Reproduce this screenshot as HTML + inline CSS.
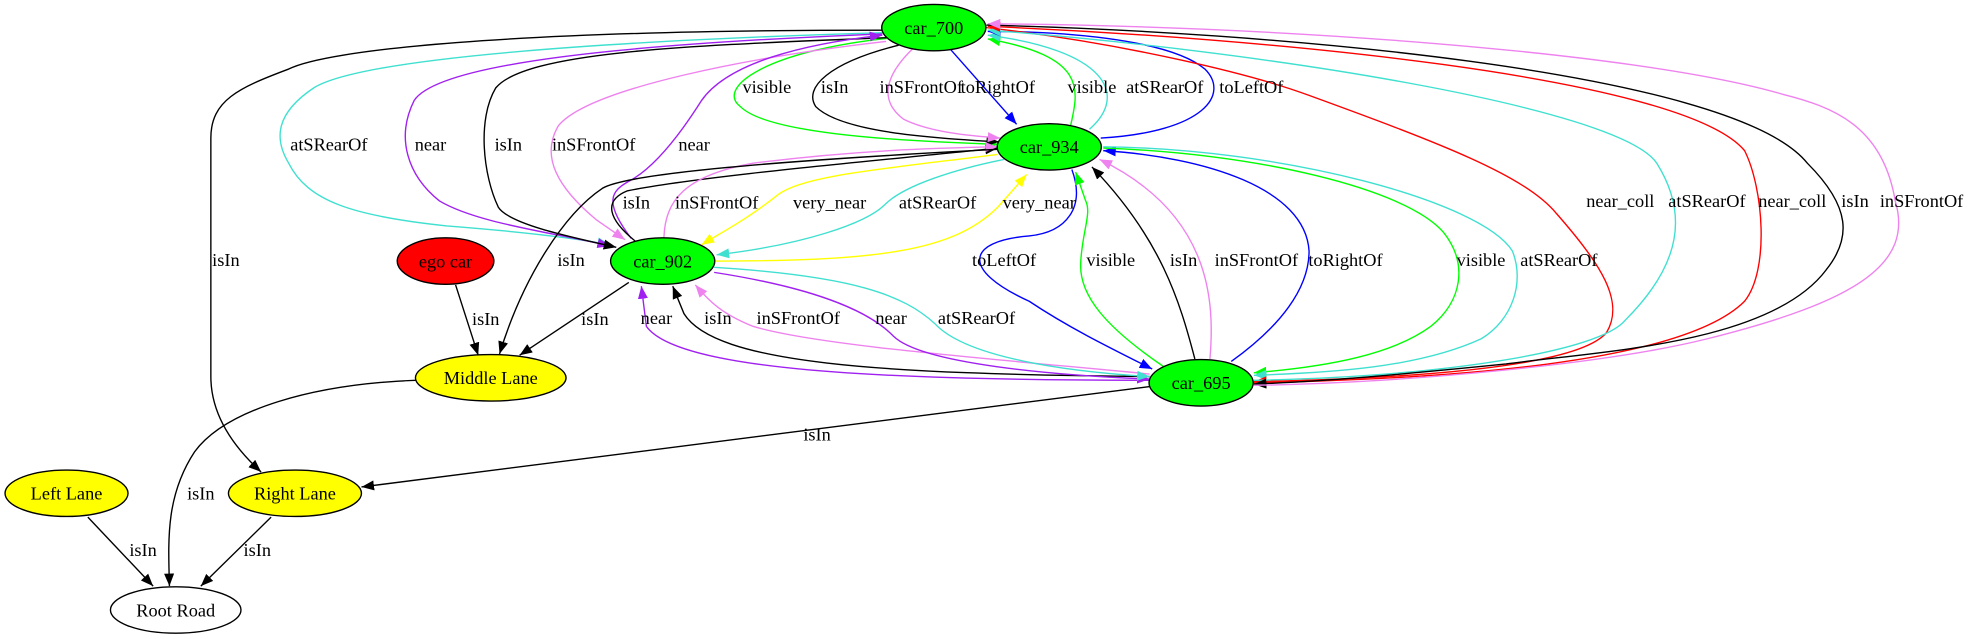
<!DOCTYPE html>
<html><head><meta charset="utf-8"><style>
html,body{margin:0;padding:0;background:#fff;width:1968px;height:639px;overflow:hidden}
svg{display:block}
text{font-family:"Liberation Serif",serif;font-size:14.6px;fill:#000}
.e{fill:none;stroke-width:1.1}
</style></head><body>
<svg width="1968" height="639" viewBox="0 0 1568 509.1" xmlns="http://www.w3.org/2000/svg">
<defs>
<marker id="mk" markerWidth="10" markerHeight="8" refX="10" refY="4" orient="auto" markerUnits="userSpaceOnUse"><path d="M0,0L10,4L0,8z" fill="#000"/></marker>
<marker id="mg" markerWidth="10" markerHeight="8" refX="10" refY="4" orient="auto" markerUnits="userSpaceOnUse"><path d="M0,0L10,4L0,8z" fill="#0f0"/></marker>
<marker id="mv" markerWidth="10" markerHeight="8" refX="10" refY="4" orient="auto" markerUnits="userSpaceOnUse"><path d="M0,0L10,4L0,8z" fill="#ee82ee"/></marker>
<marker id="mb" markerWidth="10" markerHeight="8" refX="10" refY="4" orient="auto" markerUnits="userSpaceOnUse"><path d="M0,0L10,4L0,8z" fill="#00f"/></marker>
<marker id="mt" markerWidth="10" markerHeight="8" refX="10" refY="4" orient="auto" markerUnits="userSpaceOnUse"><path d="M0,0L10,4L0,8z" fill="#40e0d0"/></marker>
<marker id="mp" markerWidth="10" markerHeight="8" refX="10" refY="4" orient="auto" markerUnits="userSpaceOnUse"><path d="M0,0L10,4L0,8z" fill="#a020f0"/></marker>
<marker id="my" markerWidth="10" markerHeight="8" refX="10" refY="4" orient="auto" markerUnits="userSpaceOnUse"><path d="M0,0L10,4L0,8z" fill="#ff0"/></marker>
<marker id="mr" markerWidth="10" markerHeight="8" refX="10" refY="4" orient="auto" markerUnits="userSpaceOnUse"><path d="M0,0L10,4L0,8z" fill="#f00"/></marker>
</defs>

<!-- car_700 <-> car_934 short -->
<path class="e" stroke="#0f0" marker-end="url(#mg)" d="M712,30 C610,40 570,70 590,85 C610,105 700,112 796,115"/>
<path class="e" stroke="#000" marker-end="url(#mk)" d="M716,36 C660,50 640,70 650,85 C670,105 740,110 796,113"/>
<path class="e" stroke="#ee82ee" marker-end="url(#mv)" d="M728,38 C705,60 700,80 720,95 C740,105 770,108 797,110"/>
<path class="e" stroke="#00f" marker-end="url(#mb)" d="M757,39 L810,99"/>
<path class="e" stroke="#0f0" marker-end="url(#mg)" d="M853,100 C860,70 865,45 787,31"/>
<path class="e" stroke="#40e0d0" marker-end="url(#mt)" d="M868,103 C900,75 880,40 787,28"/>
<path class="e" stroke="#00f" marker-end="url(#mb)" d="M877,110 C960,105 980,75 960,55 C930,30 840,25 787,25"/>

<!-- car_700 <-> car_902 -->
<path class="e" stroke="#40e0d0" marker-end="url(#mt)" d="M703,26 C500,32 290,45 250,70 C220,90 218,110 230,130 C245,160 280,172 356,180 C420,185 460,190 486,195"/>
<path class="e" stroke="#a020f0" marker-end="url(#mp)" d="M703,27 C500,35 350,50 330,80 C315,110 325,140 350,160 C380,178 440,185 486,196"/>
<path class="e" stroke="#000" marker-end="url(#mk)" d="M706,30 C560,36 420,40 395,70 C380,95 385,140 397,165 C405,178 450,188 491,197"/>
<path class="e" stroke="#ee82ee" marker-end="url(#mv)" d="M706,33 C600,45 470,70 445,100 C430,125 445,150 475,175 L498,191"/>
<path class="e" stroke="#a020f0" marker-end="url(#mp)" d="M503,190 C480,160 488,152 500,145 C520,135 540,110 559,80 C580,50 640,35 703,28"/>
<path class="e" stroke="#000" marker-end="url(#mk)" d="M703,24 C400,24 260,40 230,55 C190,70 168,80 168,110 L168,300 C168,330 185,355 208,376"/>

<!-- car_902 <-> car_934 and middle lane -->
<path class="e" stroke="#000" marker-end="url(#mk)" d="M506,192 C485,175 480,160 500,152 C560,140 700,128 795,118"/>
<path class="e" stroke="#ee82ee" marker-end="url(#mv)" d="M529,189 C530,160 545,140 600,130 C680,120 740,118 795,117"/>
<path class="e" stroke="#ff0" marker-end="url(#my)" d="M795,123 C700,135 640,140 620,155 C595,175 575,185 559,195"/>
<path class="e" stroke="#40e0d0" marker-end="url(#mt)" d="M800,127 C760,135 720,148 705,163 C690,178 640,195 571,203"/>
<path class="e" stroke="#ff0" marker-end="url(#my)" d="M570,208 C700,208 760,200 795,165 L818,139"/>
<path class="e" stroke="#000" marker-end="url(#mk)" d="M795,119 C620,128 500,138 480,150 C450,170 417,220 398,282"/>
<path class="e" stroke="#000" marker-end="url(#mk)" d="M501,225 L414,283"/>
<path class="e" stroke="#000" marker-end="url(#mk)" d="M363,227 L381,283"/>

<!-- car_934 <-> car_695 -->
<path class="e" stroke="#00f" marker-end="url(#mb)" d="M854,135 C865,165 850,185 820,188 C770,192 765,215 820,240 C850,260 880,275 918,294"/>
<path class="e" stroke="#0f0" marker-end="url(#mg)" d="M927,292 C880,260 860,235 861,210 C862,185 870,170 865,160 L857,137"/>
<path class="e" stroke="#000" marker-end="url(#mk)" d="M952,286 C940,240 925,190 870,133"/>
<path class="e" stroke="#ee82ee" marker-end="url(#mv)" d="M964,286 C968,240 965,170 876,127"/>
<path class="e" stroke="#00f" marker-end="url(#mb)" d="M981,288 C1020,260 1043,230 1043,200 C1040,150 960,125 879,120"/>
<path class="e" stroke="#0f0" marker-end="url(#mg)" d="M879,118 C1000,122 1120,150 1150,185 C1170,210 1165,240 1140,260 C1110,282 1060,292 999,297"/>
<path class="e" stroke="#40e0d0" marker-end="url(#mt)" d="M879,117 C1020,118 1180,160 1205,200 C1215,225 1205,255 1180,270 C1130,293 1060,297 999,299"/>

<!-- car_695 <-> car_902 -->
<path class="e" stroke="#a020f0" marker-end="url(#mp)" d="M916,303 C700,303 540,295 515,260 L511,228"/>
<path class="e" stroke="#000" marker-end="url(#mk)" d="M916,300 C700,298 570,290 545,250 L536,228"/>
<path class="e" stroke="#ee82ee" marker-end="url(#mv)" d="M916,298 C780,285 650,275 600,260 C575,250 565,240 554,227"/>
<path class="e" stroke="#a020f0" marker-end="url(#mp)" d="M569,217 C640,228 690,245 712,268 C735,290 840,299 916,302"/>
<path class="e" stroke="#40e0d0" marker-end="url(#mt)" d="M569,213 C680,220 720,235 745,258 C770,285 850,296 916,300"/>

<!-- car_700 <-> car_695 long -->
<path class="e" stroke="#f00" marker-end="url(#mr)" d="M786,22 C900,35 1000,60 1043,76 C1150,115 1215,140 1240,170 C1275,210 1295,240 1280,265 C1255,295 1100,302 999,304"/>
<path class="e" stroke="#40e0d0" marker-end="url(#mt)" d="M999,303 C1150,300 1275,280 1295,255 C1340,210 1345,170 1320,130 C1290,85 1000,40 787,24"/>
<path class="e" stroke="#f00" marker-end="url(#mr)" d="M999,305 C1150,302 1340,290 1390,240 C1410,215 1405,150 1390,120 C1340,60 1000,30 787,21"/>
<path class="e" stroke="#000" marker-end="url(#mk)" d="M786,20 C1000,25 1380,55 1440,130 C1475,165 1475,190 1455,215 C1410,275 1270,280 1200,290 C1100,300 1050,304 999,306"/>
<path class="e" stroke="#ee82ee" marker-end="url(#mv)" d="M999,307 C1120,305 1280,290 1360,270 C1480,240 1525,210 1510,160 C1500,100 1460,85 1420,75 C1300,40 1000,20 787,19"/>

<!-- bottom -->
<path class="e" stroke="#000" marker-end="url(#mk)" d="M916,308 L288,388"/>
<path class="e" stroke="#000" marker-end="url(#mk)" d="M331,303 C250,306 180,326 155,360 C132,395 134,430 135,467"/>
<path class="e" stroke="#000" marker-end="url(#mk)" d="M70,412 L122,467"/>
<path class="e" stroke="#000" marker-end="url(#mk)" d="M216,412 L160,467"/>

<!-- nodes -->
<g stroke="#000" stroke-width="1.1">
<ellipse cx="744" cy="22" rx="41.5" ry="18.5" fill="#0f0"/>
<ellipse cx="836" cy="117" rx="41.5" ry="18.5" fill="#0f0"/>
<ellipse cx="528" cy="208" rx="41.5" ry="18.5" fill="#0f0"/>
<ellipse cx="355" cy="208" rx="38.5" ry="18.5" fill="#f00"/>
<ellipse cx="391" cy="301" rx="60" ry="18.5" fill="#ff0"/>
<ellipse cx="957" cy="305" rx="41.5" ry="18.5" fill="#0f0"/>
<ellipse cx="53" cy="393" rx="49" ry="18.5" fill="#ff0"/>
<ellipse cx="235" cy="393" rx="53" ry="18.5" fill="#ff0"/>
<ellipse cx="140" cy="486" rx="52" ry="18.5" fill="#fff"/>
</g>
<g text-anchor="middle">
<text x="744" y="27">car_700</text>
<text x="836" y="122">car_934</text>
<text x="528" y="213">car_902</text>
<text x="355" y="213">ego car</text>
<text x="391" y="306">Middle Lane</text>
<text x="957" y="310">car_695</text>
<text x="53" y="398">Left Lane</text>
<text x="235" y="398">Right Lane</text>
<text x="140" y="491">Root Road</text>
</g>
<!-- edge labels -->
<g text-anchor="middle">
<text x="611" y="74">visible</text>
<text x="665" y="74">isIn</text>
<text x="734" y="74">inSFrontOf</text>
<text x="795" y="74">toRightOf</text>
<text x="870" y="74">visible</text>
<text x="928" y="74">atSRearOf</text>
<text x="997" y="74">toLeftOf</text>
<text x="262" y="120">atSRearOf</text>
<text x="343" y="120">near</text>
<text x="405" y="120">isIn</text>
<text x="473" y="120">inSFrontOf</text>
<text x="553" y="120">near</text>
<text x="180" y="212">isIn</text>
<text x="507" y="166">isIn</text>
<text x="571" y="166">inSFrontOf</text>
<text x="661" y="166">very_near</text>
<text x="747" y="166">atSRearOf</text>
<text x="828" y="166">very_near</text>
<text x="455" y="212">isIn</text>
<text x="474" y="259">isIn</text>
<text x="387" y="259">isIn</text>
<text x="800" y="212">toLeftOf</text>
<text x="885" y="212">visible</text>
<text x="943" y="212">isIn</text>
<text x="1001" y="212">inSFrontOf</text>
<text x="1072" y="212">toRightOf</text>
<text x="1180" y="212">visible</text>
<text x="1242" y="212">atSRearOf</text>
<text x="523" y="258">near</text>
<text x="572" y="258">isIn</text>
<text x="636" y="258">inSFrontOf</text>
<text x="710" y="258">near</text>
<text x="778" y="258">atSRearOf</text>
<text x="1291" y="165">near_coll</text>
<text x="1360" y="165">atSRearOf</text>
<text x="1428" y="165">near_coll</text>
<text x="1478" y="165">isIn</text>
<text x="1531" y="165">inSFrontOf</text>
<text x="651" y="351">isIn</text>
<text x="160" y="398">isIn</text>
<text x="114" y="443">isIn</text>
<text x="205" y="443">isIn</text>
</g>
</svg>
</body></html>
